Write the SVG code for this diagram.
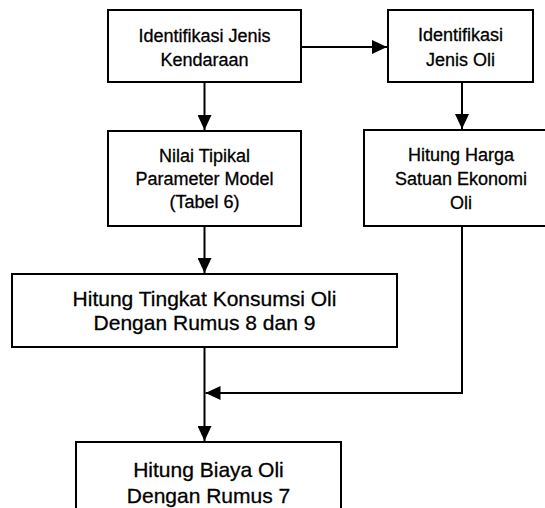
<svg xmlns="http://www.w3.org/2000/svg" width="545" height="508" viewBox="0 0 545 508">
  <style>
    .box { fill: #ffffff; stroke: #000000; stroke-width: 2; }
    .lbl { font-family: "Liberation Sans", Arial, sans-serif; font-size: 18px; fill: #000000; stroke: #000000; stroke-width: 0.3; text-anchor: middle; }
    .lbl.big { font-size: 21px; }
    .wire { fill: none; stroke: #000000; stroke-width: 2; }
  </style>
  <defs>
    <marker id="arrow" markerUnits="userSpaceOnUse" markerWidth="15" markerHeight="14" refX="15" refY="7" orient="auto">
      <path d="M0,0 L15,7 L0,14 z" fill="#000000"/>
    </marker>
  </defs>
  <rect width="545" height="508" fill="#ffffff"/>

  <g id="connectors">
    <path class="wire" d="M301,47 H387" marker-end="url(#arrow)"/>
    <path class="wire" d="M204.5,82 V130" marker-end="url(#arrow)"/>
    <path class="wire" d="M462,82 V129" marker-end="url(#arrow)"/>
    <path class="wire" d="M204.5,226 V273" marker-end="url(#arrow)"/>
    <path class="wire" d="M462,226 V393 H205.5" marker-end="url(#arrow)"/>
    <path class="wire" d="M204.5,347 V441" marker-end="url(#arrow)"/>
  </g>

  <g id="identifikasi-kendaraan">
    <rect class="box" x="108" y="10" width="193" height="72"/>
    <text class="lbl" x="204.5" y="41.5">Identifikasi Jenis</text>
    <text class="lbl" x="204.5" y="65.5">Kendaraan</text>
  </g>

  <g id="identifikasi-oli">
    <rect class="box" x="388" y="10" width="145" height="72"/>
    <text class="lbl" x="460.5" y="41">Identifikasi</text>
    <text class="lbl" x="460.5" y="65.5">Jenis Oli</text>
  </g>

  <g id="nilai-tipikal">
    <rect class="box" x="108" y="131" width="193" height="95"/>
    <text class="lbl" x="204.5" y="161.5">Nilai Tipikal</text>
    <text class="lbl" x="204.5" y="185">Parameter Model</text>
    <text class="lbl" x="204.5" y="208">(Tabel 6)</text>
  </g>

  <g id="harga-satuan">
    <rect class="box" x="364" y="130" width="200" height="96"/>
    <text class="lbl" x="461" y="161">Hitung Harga</text>
    <text class="lbl" x="461" y="185">Satuan Ekonomi</text>
    <text class="lbl" x="461" y="209">Oli</text>
  </g>

  <g id="tingkat-konsumsi">
    <rect class="box" x="12" y="274" width="385" height="73"/>
    <text class="lbl big" x="204.5" y="306">Hitung Tingkat Konsumsi Oli</text>
    <text class="lbl big" x="204.5" y="330">Dengan Rumus 8 dan 9</text>
  </g>

  <g id="biaya-oli">
    <rect class="box" x="76" y="442" width="265" height="80"/>
    <text class="lbl big" x="208.5" y="476.5">Hitung Biaya Oli</text>
    <text class="lbl big" x="208.5" y="503">Dengan Rumus 7</text>
  </g>
</svg>
